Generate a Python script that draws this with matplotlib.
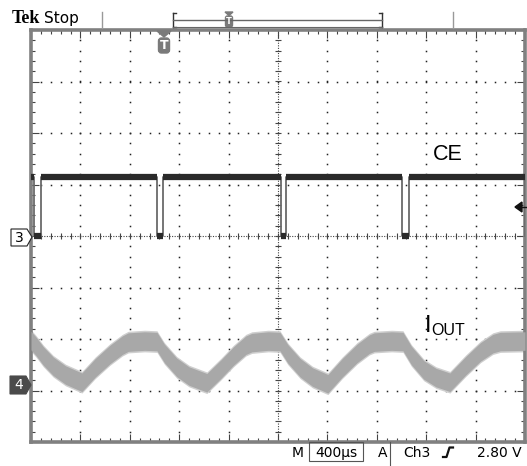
import numpy as np
import matplotlib
matplotlib.use('Agg')
import matplotlib.pyplot as plt
from matplotlib.patches import Polygon, FancyBboxPatch, Rectangle

# screen is 10 x 8 divisions, 400 us/div
# CE channel (ch3): edge times in divisions, levels in divisions
ce_fall = [0.06, 2.56, 5.07, 7.52]
ce_rise = [0.20, 2.68, 5.17, 7.65]
ce_high = 1.14
ce_low = 0.0

# IOUT channel (ch4): centre of the noisy band
iout_t = [0.0, 0.1, 0.25, 0.45, 0.7, 1.03, 1.3, 1.6, 1.85, 1.97, 2.3,
          2.55, 2.7, 2.95, 3.2, 3.56, 3.85, 4.1, 4.35, 4.47, 4.8,
          5.04, 5.2, 5.45, 5.7, 6.01, 6.3, 6.6, 6.85, 6.95, 7.3,
          7.53, 7.7, 7.95, 8.2, 8.48, 8.8, 9.1, 9.35, 9.5, 10.0]
iout_v = [-2.03, -2.14, -2.33, -2.53, -2.70, -2.84, -2.56, -2.30, -2.12, -2.06, -2.04,
          -2.05, -2.28, -2.55, -2.72, -2.85, -2.58, -2.33, -2.12, -2.07, -2.04,
          -2.05, -2.29, -2.56, -2.74, -2.87, -2.56, -2.28, -2.10, -2.06, -2.04,
          -2.05, -2.32, -2.60, -2.75, -2.84, -2.52, -2.25, -2.09, -2.05, -2.04]
iout_noise = 0.18

W, H = 527, 466
fig = plt.figure(figsize=(W / 100, H / 100), dpi=100)
fig.patch.set_facecolor('white')
ax = fig.add_axes([31 / W, 24 / H, 494 / W, 412 / H])
ax.set_xlim(0, 10)
ax.set_ylim(-4, 4)

# graticule: dotted lines every division, one dot each 0.2 div
fine = np.arange(0, 10.001, 0.2)
fine_y = np.arange(-4, 4.001, 0.2)
for k in range(1, 10):
    if k == 5:
        continue
    ax.plot(np.full_like(fine_y, k), fine_y, ls='none', marker='s', ms=1.1, mew=0, color='#222222')
for j in range(-3, 4):
    if j == 0:
        continue
    ax.plot(fine, np.full_like(fine, j), ls='none', marker='s', ms=1.1, mew=0, color='#222222')

# centre crosshair with small ticks
ax.axhline(0, ls=(0, (1, 1.3)), lw=0.8, color='#444444')
ax.axvline(5, ls=(0, (1, 1.3)), lw=0.8, color='#444444')
ax.vlines(fine, -0.06, 0.06, lw=0.8, color='#444444')
ax.hlines(fine_y, 4.94, 5.06, lw=0.8, color='#444444')

ax.set_xticks(np.arange(0, 10.01, 1))
ax.set_xticks(fine, minor=True)
ax.set_yticks(np.arange(-4, 4.01, 1))
ax.set_yticks(fine_y, minor=True)
ax.tick_params(which='both', direction='in', top=True, right=True,
               labelbottom=False, labelleft=False, color='#444444', width=0.8)
ax.tick_params(which='major', length=6)
ax.tick_params(which='minor', length=3)
for s in ax.spines.values():
    s.set_color('#808080')
    s.set_linewidth(2.6)

# IOUT band
iout_t = np.array(iout_t)
iout_v = np.array(iout_v)
ax.fill_between(iout_t, iout_v - iout_noise - 0.03, iout_v + iout_noise + 0.03,
                color='#cfcfcf', lw=0, zorder=2)
ax.fill_between(iout_t, iout_v - iout_noise, iout_v + iout_noise,
                color='#a8a8a8', lw=0, zorder=3)

# CE trace: thin edges, heavy levels
ce_t = [0.0]
ce_v = [ce_high]
for f, r in zip(ce_fall, ce_rise):
    ce_t += [f, f, r, r]
    ce_v += [ce_high, ce_low, ce_low, ce_high]
ce_t += [9.99, 9.99]
ce_v += [ce_high, ce_low]
ax.plot(ce_t, ce_v, color='#6a6a6a', lw=1.3, zorder=4)
starts = [0.0] + ce_rise
ends = ce_fall + [9.99]
for a, b in zip(starts, ends):
    ax.plot([a, b], [ce_high, ce_high], color='#2a2a2a', lw=4.5, solid_capstyle='butt', zorder=5)
for f, r in zip(ce_fall, ce_rise):
    ax.plot([f, r], [ce_low, ce_low], color='#2a2a2a', lw=4.5, solid_capstyle='butt', zorder=5)

# overlay in pixel coordinates for the scope readout
ov = fig.add_axes([0, 0, 1, 1])
ov.set_xlim(0, W)
ov.set_ylim(H, 0)
ov.axis('off')
ov.patch.set_alpha(0)
ov.set_zorder(5)

gray = '#7a7a7a'
ov.text(12, 23, 'Tek', family='Liberation Serif', weight='bold', fontsize=13, va='baseline')
ov.text(44, 23, 'Stop', family='DejaVu Sans', fontsize=11, va='baseline')

# record / trigger position bar
ov.plot([101.5, 101.5], [12, 28], color='#999999', lw=1)
ov.plot([453, 453], [12, 28], color='#999999', lw=1)
ov.plot([173, 173], [13, 27], color='#333333', lw=1)
ov.plot([173, 176], [13, 13], color='#333333', lw=1)
ov.plot([173, 176], [27, 27], color='#333333', lw=1)
ov.plot([382, 382], [13, 27], color='#333333', lw=1)
ov.plot([379, 382], [13, 13], color='#333333', lw=1)
ov.plot([379, 382], [27, 27], color='#333333', lw=1)
ov.plot([173, 382], [19.5, 19.5], color='#666666', lw=1)
ov.plot([173, 382], [27, 27], color='#666666', lw=0.8)
ov.add_patch(Polygon([[225, 12], [233, 12], [229, 15.5]], color=gray))
ov.add_patch(FancyBboxPatch((225.5, 16), 7, 11, boxstyle='round,pad=0,rounding_size=2', color=gray))
ov.text(229, 22, 'T', color='white', fontsize=6, weight='bold', ha='center', va='center')

# trigger position marker
ov.add_patch(Polygon([[157, 31], [171, 31], [164, 37]], color=gray))
ov.add_patch(FancyBboxPatch((158.5, 38), 11, 15, boxstyle='round,pad=0,rounding_size=3', color=gray))
ov.text(164, 45.5, 'T', color='white', fontsize=9, weight='bold', ha='center', va='center')

# channel ground markers
ov.add_patch(Polygon([[11, 229], [27, 229], [32, 237], [27, 246], [11, 246]],
                     facecolor='white', edgecolor='#222222', lw=0.8))
ov.text(19, 238, '3', fontsize=10, ha='center', va='center', family='DejaVu Sans')
ov.add_patch(Polygon([[10, 376], [26, 376], [31, 385], [26, 394], [10, 394]],
                     facecolor='#4a4a4a', edgecolor='#4a4a4a', lw=0.8))
ov.text(18.5, 385, '4', fontsize=10, ha='center', va='center', color='white', family='DejaVu Sans')

# trigger level arrow
ov.add_patch(Polygon([[515, 207], [522, 202], [522, 212]], color='#111111'))
ov.plot([521, 526], [207, 207], color='#111111', lw=1)

# channel labels
ov.text(433, 160, 'CE', family='Liberation Sans', fontsize=15.5, va='baseline')
ov.text(425, 332, 'I', family='Liberation Sans', fontsize=17, va='baseline')
ov.text(431.5, 335, 'OUT', family='Liberation Sans', fontsize=11.5, va='baseline')

# bottom readout
ov.text(292, 457, 'M', family='DejaVu Sans', fontsize=10, va='baseline')
ov.add_patch(Rectangle((309, 442), 54, 19, facecolor='none', edgecolor='#555555', lw=0.8))
ov.text(336, 457, '400µs', family='DejaVu Sans', fontsize=10, va='baseline', ha='center')
ov.text(378, 457, 'A', family='DejaVu Sans', fontsize=10, va='baseline')
ov.plot([390, 390], [442, 466], color='#555555', lw=0.8)
ov.text(403, 457, 'Ch3', family='DejaVu Sans', fontsize=10, va='baseline')
ov.plot([443, 446.5, 449.5, 453], [457, 457, 447.5, 447.5], color='#111111', lw=1.6)
ov.text(477, 457, '2.80 V', family='DejaVu Sans', fontsize=10, va='baseline')

fig.savefig('out.png', dpi=100)
